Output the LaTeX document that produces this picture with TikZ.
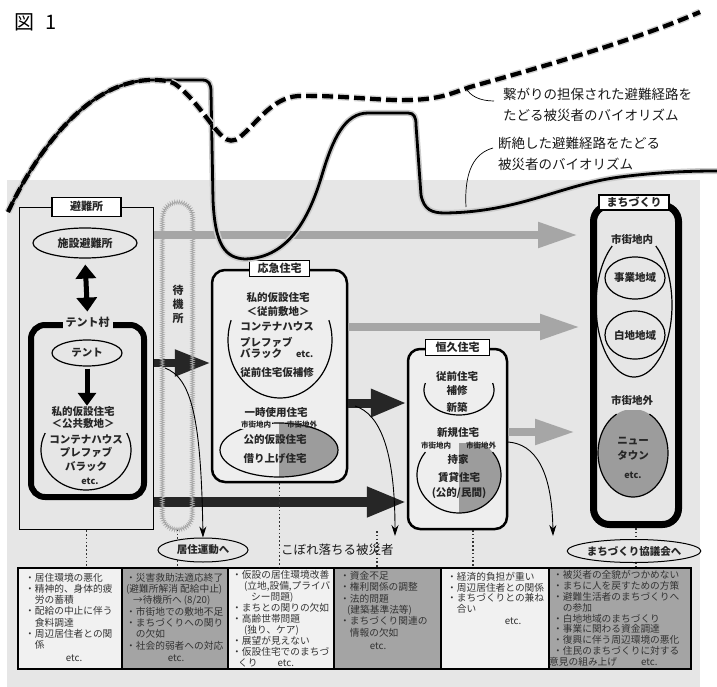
\documentclass[tikz,border=0pt]{standalone}
\usepackage{fontspec}
\setmainfont{Noto Sans CJK JP}
\usetikzlibrary{arrows.meta,shapes.geometric,decorations.pathmorphing,calc}
\definecolor{panel}{HTML}{E6E6E6}
\definecolor{lightcell}{HTML}{F1F1F1}
\definecolor{darkcell}{HTML}{A4A4A4}
\definecolor{fillgray}{HTML}{9C9C9C}
\definecolor{inbox}{HTML}{EEEEEE}
\begin{document}
\begin{tikzpicture}[x=1pt,y=-1pt,
 lb/.style={font=\fontsize{10.5}{12}\selectfont\bfseries, text=black!85, inner sep=0pt},
 sm/.style={font=\fontsize{7.5}{8}\selectfont\bfseries, text=black!85, inner sep=0pt},
 ttl/.style={draw, line width=1.3pt, fill=white, font=\fontsize{11}{12}\selectfont\bfseries, text=black!85, inner sep=0pt},
 ell/.style={draw, ellipse, line width=1.2pt, inner sep=0pt, font=\fontsize{10.5}{12}\selectfont\bfseries, text=black!85},
 tb/.style={font=\fontsize{9.7}{11}\selectfont, text=black!80, align=left, anchor=north west, inner sep=0pt},
 cell/.style={draw, line width=1.6pt, minimum height=101pt, inner sep=0pt},
 note/.style={font=\fontsize{13.5}{21}\selectfont, text=black!90, align=left, anchor=north west, inner sep=0pt},
 dotln/.style={line width=1.6pt, dash pattern=on 1.6pt off 2.2pt, black!80},
 garrow/.style={line width=8pt, gray!70, -{Triangle[length=40pt,width=24pt]}},
 barrow/.style={line width=9pt, black!85, -{Triangle[length=36pt,width=26pt]}},
 thinarr/.style={line width=0.9pt, black, -{Stealth[length=11pt,width=7pt]}},
 leader/.style={line width=0.7pt, black},
 boxline/.style={draw, inner sep=0pt},
]
\useasboundingbox (0,0) rectangle (717,687);
\fill[panel] (7,180) rectangle (700,687);

\node[font=\fontsize{20}{22}\selectfont, anchor=west, inner sep=0pt] (title) at (14,22) {図\hspace{11pt}1};

% ---------- main boxes ----------
\node[boxline, line width=1.5pt, minimum width=134pt, minimum height=322pt] (hinan) at (86.5,368.5) {};
\node[boxline, line width=6pt, rounded corners=14pt, minimum width=113pt, minimum height=172pt] (tent) at (87.5,411) {};
\node[boxline, line width=2.5pt, rounded corners=13pt, fill=inbox, minimum width=135pt, minimum height=212pt] (ouq) at (279.5,376) {};
\node[boxline, line width=2.5pt, rounded corners=12pt, fill=inbox, minimum width=99pt, minimum height=180pt] (kouq) at (457.5,439) {};
\node[boxline, line width=7pt, rounded corners=16pt, minimum width=85pt, minimum height=319pt] (machi) at (636,365) {};
\node[inner sep=0pt, minimum width=30pt, minimum height=327pt] (taiki) at (177.5,366) {};

% ---------- table ----------
\node[cell, fill=lightcell, minimum width=104pt] (c1) at (70,618.5) {};
\node[cell, fill=darkcell, minimum width=106pt] (c2) at (175,618.5) {};
\node[cell, fill=lightcell, minimum width=106pt] (c3) at (281,618.5) {};
\node[cell, fill=darkcell, minimum width=107pt] (c4) at (387.5,618.5) {};
\node[cell, fill=lightcell, minimum width=108pt] (c5) at (495,618.5) {};
\node[cell, fill=darkcell, minimum width=142pt] (c6) at (620,618.5) {};

% ---------- level coordinates ----------
\coordinate (yg1) at (0,235);
\coordinate (yg2) at (0,327);
\coordinate (yg3) at (0,432);
\coordinate (ya) at (0,363);
\coordinate (yb) at (0,403);
\coordinate (yc) at (0,502);

% ---------- gray arrows ----------
\draw[garrow, shorten >=12pt] (hinan.east |- yg1) -- (machi.west |- yg1);
\draw[garrow, shorten >=10pt] (ouq.east |- yg2) -- (machi.west |- yg2);
\draw[garrow, shorten >=15pt] (kouq.east |- yg3) -- (machi.west |- yg3);

% ---------- black arrows ----------
\draw[barrow, line width=8pt, -{Triangle[length=36pt,width=25pt]}] (hinan.east |- ya) -- (ouq.west |- ya);
\draw[barrow] (ouq.east |- yb) -- (kouq.west |- yb);
\draw[barrow, line width=10pt, -{Triangle[length=40pt,width=28pt]}] (hinan.east |- yc) -- (kouq.west |- yc);

% ---------- waiting place capsule ----------
\draw[gray!70, line width=0.7pt, decorate, decoration={zigzag, segment length=2.2pt, amplitude=1.8pt}]
 (taiki.north west) ++(0,15) -- ($(taiki.south west)+(0,-15)$)
 arc[start angle=180, end angle=360, radius=15pt]
 -- ($(taiki.north east)+(0,15)$)
 arc[start angle=0, end angle=180, radius=15pt] -- cycle;
\node[lb, align=center, font=\fontsize{11}{14}\selectfont\bfseries] (taikilbl) at (178,304) {待\\機\\所};

% ---------- 避難所 contents ----------
\node[ell, minimum width=104pt, minimum height=30pt, font=\fontsize{11}{12}\selectfont\bfseries] (shisetsu) at (85,243) {施設避難所};
\node[lb, fill=panel, inner xsep=3pt, inner ysep=2pt, font=\fontsize{11}{12}\selectfont\bfseries] (tentlbl) at (tent.north) {テント村};
\draw[line width=5pt, black, {Triangle[length=14pt,width=20pt]}-{Triangle[length=14pt,width=20pt]}, shorten <=6pt, shorten >=3pt] (shisetsu.south) -- (tentlbl.north);
\node[ell, minimum width=70pt, minimum height=26pt] (tentel) at (87,353) {テント};
\node[lb] (shi1) at (83,412) {私的仮設住宅};
\node[lb] (shi2) at (83,423.5) {＜公共敷地＞};
\draw[line width=5pt, black, -{Triangle[length=13pt,width=18pt]}, shorten <=2pt, shorten >=1pt] (tentel.south) -- (shi1.north -| tentel.south);
\draw[line width=1.2pt] plot[domain=-25:205, samples=60] ({86+45*cos(\x)},{450+40*sin(\x)});
\node[lb] (h1) at (86,440) {コンテナハウス};
\node[lb] (h2) at (86,452) {プレファブ};
\node[lb] (h3) at (86,467) {バラック};
\node[lb, font=\fontsize{9}{10}\selectfont\bfseries] (h4) at (90,481) {etc.};
\node[ttl, minimum width=69pt, minimum height=19pt] (hinanlbl) at (hinan.north) {避難所};

% ---------- 応急住宅 contents ----------
\node[lb] (o1) at (278,298) {私的仮設住宅};
\node[lb] (o2) at (278,311) {＜従前敷地＞};
\draw[line width=1.2pt] plot[domain=-20:200, samples=60] ({280+52*cos(\x)},{340+58*sin(\x)});
\node[lb] (o3) at (277,327) {コンテナハウス};
\node[lb, anchor=west] (o4) at (240,342) {プレファブ};
\node[lb, anchor=west] (o5) at (240,354) {バラック\hspace{14pt}{\fontsize{9}{10}\selectfont etc.}};
\node[lb] (o6) at (277,373) {従前住宅仮補修};
\node[lb] (o7) at (276,413) {一時使用住宅};
\begin{scope}
\clip (279,395) rectangle (345,485);
\fill[fillgray] (279,450) ellipse [x radius=59pt, y radius=27pt];
\end{scope}
\node[boxline, ellipse, line width=1.2pt, minimum width=118pt, minimum height=54pt] (ichiji) at (279,450) {};
\node[sm, fill=inbox, inner sep=0.5pt] (o8) at (256,425) {市街地内};
\node[sm] (o9) at (302,425) {市街地外};
\node[lb] (o10) at (275,440) {公的仮設住宅};
\node[lb] (o11) at (275,459) {借り上げ住宅};
\node[ttl, minimum width=60pt, minimum height=16pt] (ouqlbl) at (ouq.north) {応急住宅};

% ---------- 恒久住宅 contents ----------
\node[lb] (k1) at (457,377) {従前住宅};
\draw[line width=1.2pt] plot[domain=-16:196, samples=50] ({459+35*cos(\x)},{390+25*sin(\x)});
\node[lb] (k2) at (457,391) {補修};
\node[lb] (k3) at (457,407) {新築};
\node[lb] (k4) at (458,433) {新規住宅};
\begin{scope}
\clip (459,443) rectangle (510,520);
\fill[fillgray] (459,475) ellipse [x radius=42pt, y radius=38pt];
\end{scope}
\draw[line width=1.2pt] plot[domain=-37:217, samples=60] ({459+42*cos(\x)},{475+38*sin(\x)});
\node[sm] (k5) at (436,446) {市街地内};
\node[sm] (k6) at (481,446) {市街地外};
\node[lb] (k7) at (458,460) {持家};
\node[lb] (k8) at (459,477) {賃貸住宅};
\node[lb] (k9) at (459,493) {(公的/民間)};
\node[ttl, minimum width=64pt, minimum height=16pt] (kouqlbl) at (kouq.north) {恒久住宅};

% ---------- まちづくり contents ----------
\node[lb] (m1) at (632,239) {市街地内};
\draw[line width=1.2pt] plot[domain=-55:235, samples=70] ({634+38*cos(\x)},{305+72*sin(\x)});
\node[ell, minimum width=60pt, minimum height=42pt] (jigyo) at (635,278) {事業地域};
\node[ell, minimum width=60pt, minimum height=48pt] (shiro) at (635,335) {白地地域};
\node[lb] (m2) at (632,400) {市街地外};
\begin{scope}
\clip (590,410) rectangle (680,500);
\fill[fillgray] (633,453) ellipse [x radius=35pt, y radius=44pt];
\end{scope}
\draw[line width=1.2pt] plot[domain=-62:242, samples=60] ({633+35*cos(\x)},{453+44*sin(\x)});
\node[lb] (m3) at (633,441) {ニュー};
\node[lb] (m4) at (633,455) {タウン};
\node[lb, font=\fontsize{9}{10}\selectfont\bfseries] (m5) at (633,475) {etc.};
\node[ttl, minimum width=70pt, minimum height=15pt] (machilbl) at (634,202.5) {まちづくり};

% ---------- dotted connectors ----------
\coordinate (d4) at (377,531);
\coordinate (d5) at (473,530);
\draw[dotln] (hinan.south) -- (hinan.south |- c1.north);
\draw[dotln] (taiki.south) -- (taiki.south |- c2.north);
\draw[dotln] (ouq.south) -- (ouq.south |- c3.north);
\draw[dotln] (d4) -- (d4 |- c4.north);
\draw[dotln] (d5) -- (d5 |- c5.north);
\draw[dotln] (machi.south) -- (machi.south |- c6.north);

% ---------- ellipses below ----------
\node[ell, fill=panel, line width=1pt, minimum width=90pt, minimum height=24pt] (kyoju) at (203,550) {居住運動へ};
\node[ell, fill=panel, line width=1pt, minimum width=115pt, minimum height=23pt] (kyogi) at (634,551) {まちづくり協議会へ};
\node[font=\fontsize{12.5}{14}\selectfont, text=black!90, anchor=west, inner sep=0pt] (kobore) at (281,550) {こぼれ落ちる被災者};

% ---------- thin arrows ----------
\coordinate (t1s) at (165,368);
\coordinate (t2s) at (355,406);
\coordinate (t2e) at (395,536);
\coordinate (t3s) at (508,442);
\coordinate (t3e) at (553,536);
\draw[thinarr] (t1s) .. controls (192,378) and (201,420) .. (kyoju.north);
\draw[thinarr] (t2s) .. controls (380,414) and (395,450) .. (t2e);
\draw[thinarr] (t3s) .. controls (535,444) and (552,470) .. (t3e);

% ---------- table text ----------
\node[tb, font=\fontsize{9.7}{11.2}\selectfont] (tx1) at (25,573) {・居住環境の悪化\\・精神的、身体的疲\\　労の蓄積\\・配給の中止に伴う\\　食料調達\\・周辺居住者との関\\　係};
\node[tb] (e1) [anchor=center] at (74,658) {etc.};
\node[tb, font=\fontsize{9.7}{11.3}\selectfont] (tx2) at (126,573) {・災害救助法適応終了\\(避難所解消 配給中止)\\\hspace*{7pt}→待機所へ (8/20)\\・市街地での敷地不足\\・まちづくりへの関り\\　の欠如\\・社会的弱者への対応};
\node[tb] (e2) [anchor=center] at (176,658) {etc.};
\node[tb, font=\fontsize{9.7}{11}\selectfont] (tx3) at (232,570) {・仮設の居住環境改善\\\hspace*{12pt}(立地,設備,プライバ\\\hspace*{19pt}シー問題)\\・まちとの関りの欠如\\・高齢世帯問題\\\hspace*{12pt}(独り、ケア)\\・展望が見えない\\・仮設住宅でのまちづ\\\hspace*{6pt}くり\hspace*{20pt}etc.};
\node[tb, font=\fontsize{9.7}{11.4}\selectfont] (tx4) at (340,571) {・資金不足\\・権利関係の調整\\・法的問題\\\hspace*{7pt}(建築基準法等)\\・まちづくり関連の\\　情報の欠如};
\node[tb] (e4) [anchor=center] at (378,646) {etc.};
\node[tb, font=\fontsize{9.7}{10.7}\selectfont] (tx5) at (447,572) {・経済的負担が重い\\・周辺居住者との関係\\・まちづくりとの兼ね\\　合い};
\node[tb] (e5) [anchor=center] at (513,621) {etc.};
\node[tb, font=\fontsize{9.7}{10.9}\selectfont] (tx6) at (553,570) {・被災者の全貌がつかめない\\・まちに人を戻すための方策\\・避難生活者のまちづくりへ\\　の参加\\・白地地域のまちづくり\\・事業に関わる資金調達\\・復興に伴う周辺環境の悪化\\・住民のまちづくりに対する\\\hspace*{-4pt}意見の組み上げ\hspace*{24pt}etc.};

% ---------- biorhythm curves ----------
\draw[line width=2.8pt, black, line join=round, preaction={draw, line width=6pt, gray!40}]
 (8,212) .. controls (35,155) and (85,82) .. (150,80) -- (202,80)
 .. controls (209,80) and (211,84) .. (211,92) -- (213,200)
 .. controls (215,245) and (225,258) .. (245,259)
 .. controls (290,258) and (310,215) .. (322,175)
 .. controls (333,138) and (345,113) .. (368,113) -- (408,113)
 .. controls (414,113) and (416,117) .. (416,125) -- (421,195)
 .. controls (424,210) and (432,213) .. (445,213)
 .. controls (520,212) and (560,185) .. (620,177)
 .. controls (660,172) and (690,171) .. (717,171);
\draw[line width=4.2pt, black, dash pattern=on 11pt off 5pt, preaction={draw, line width=7pt, gray!35, dash pattern=on 11pt off 5pt}]
 (8,212) .. controls (35,155) and (85,82) .. (150,80)
 .. controls (160,80) and (168,80) .. (175,84)
 .. controls (195,98) and (210,125) .. (222,136)
 .. controls (228,142) and (234,142) .. (240,137)
 .. controls (258,122) and (272,98) .. (298,96)
 .. controls (340,95) and (380,101) .. (410,100)
 .. controls (440,99) and (450,94) .. (470,87)
 .. controls (560,62) and (640,38) .. (700,12);

% ---------- curve labels ----------
\node[note] (lab1) at (503,88) {繋がりの担保された避難経路を\\たどる被災者のバイオリズム};
\node[note] (lab2) at (498,137) {断絶した避難経路をたどる\\被災者のバイオリズム};
\coordinate (l1) at (494,101);
\coordinate (l2) at (493,148);
\coordinate (p1) at (466,88);
\coordinate (p2) at (466,207);
\draw[leader] (l1) .. controls (480,101) and (470,96) .. (p1);
\draw[leader] (l2) .. controls (475,153) and (464,170) .. (p2);
\end{tikzpicture}
\end{document}
